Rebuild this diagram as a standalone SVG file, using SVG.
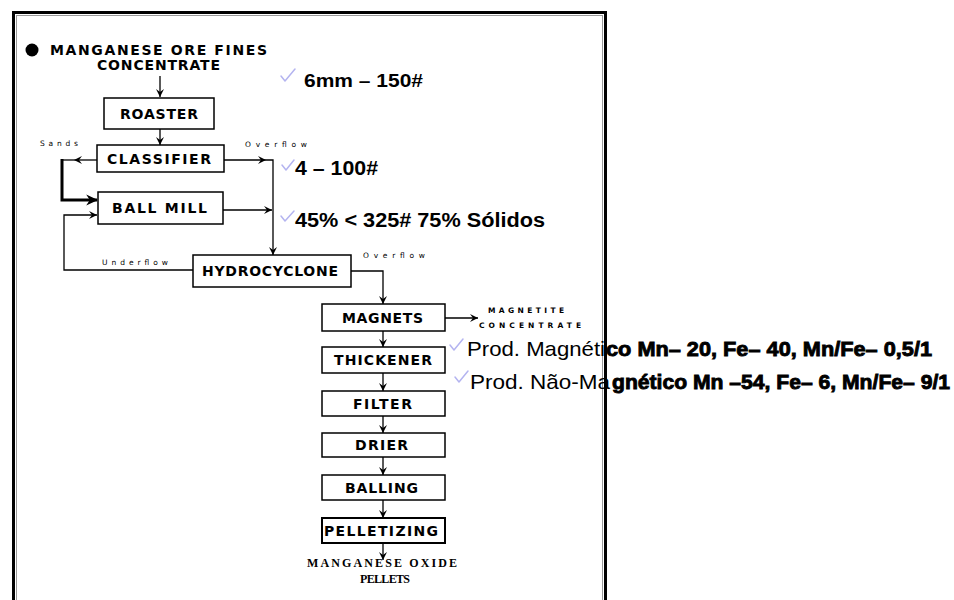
<svg xmlns="http://www.w3.org/2000/svg" width="954" height="600" viewBox="0 0 954 600">
<defs>
<style>
.box{fill:#fff;stroke:#000;stroke-width:1.5}
.lbl{font-family:"DejaVu Sans",sans-serif;font-weight:bold;font-size:14px;fill:#000}
.sm{font-family:"DejaVu Sans",sans-serif;font-weight:bold;font-size:7.5px;fill:#000}
.ann{font-family:"Liberation Sans",Arial,sans-serif;font-weight:bold;font-size:19px;fill:#000}
.reg{font-family:"Liberation Sans",Arial,sans-serif;font-size:21px;fill:#000}
.hvy{font-family:"Liberation Sans",Arial,sans-serif;font-weight:bold;font-size:21px;fill:#000;stroke:#000;stroke-width:0.9}
.ser{font-family:"Liberation Serif","Times New Roman",serif;font-weight:bold;font-size:12px;fill:#000}
.ln{fill:none;stroke:#000;stroke-width:1.3}
.thk{fill:none;stroke:#000;stroke-width:3}
.chk{fill:none;stroke:#b4b4f0;stroke-width:1.5;stroke-linecap:round;stroke-linejoin:round}
</style>
<marker id="ah" markerUnits="userSpaceOnUse" markerWidth="10" markerHeight="10" viewBox="0 0 10 10" refX="9" refY="5" orient="auto">
<path d="M1,1 L9,5 L1,9 L4,5 z" fill="#000"/>
</marker>
<marker id="ahb" markerUnits="userSpaceOnUse" markerWidth="12" markerHeight="12" viewBox="0 0 10 10" refX="9" refY="5" orient="auto">
<path d="M0,0.5 L10,5 L0,9.5 L3,5 z" fill="#000"/>
</marker>
</defs>
<rect width="954" height="600" fill="#fff"/>
<rect x="13.5" y="12.5" width="592" height="620" fill="none" stroke="#000" stroke-width="3"/>
<rect x="16.5" y="15.5" width="586" height="620" fill="none" stroke="#999" stroke-width="1"/>

<g id="source">
<circle cx="32" cy="50" r="6.5" fill="#000"/>
<text class="lbl" x="50" y="55" textLength="217" lengthAdjust="spacing">MANGANESE ORE FINES</text>
<text class="lbl" x="97" y="70" textLength="123" lengthAdjust="spacing">CONCENTRATE</text>
</g>

<g id="roaster"><rect class="box" x="104" y="98" width="110" height="31"/><text class="lbl" x="120" y="118.5" textLength="78" lengthAdjust="spacing">ROASTER</text></g>
<g id="classifier"><rect class="box" x="97" y="145" width="127" height="27"/><text class="lbl" x="107" y="164" textLength="104" lengthAdjust="spacing">CLASSIFIER</text></g>
<g id="ballmill"><rect class="box" x="98" y="192" width="125" height="32"/><text class="lbl" x="112" y="213" textLength="95" lengthAdjust="spacing">BALL MILL</text></g>
<g id="hydrocyclone"><rect class="box" x="193" y="255" width="158" height="32"/><text class="lbl" x="202" y="276" textLength="136" lengthAdjust="spacing">HYDROCYCLONE</text></g>
<g id="magnets"><rect class="box" x="322" y="304" width="123" height="27"/><text class="lbl" x="342" y="322.5" textLength="81" lengthAdjust="spacing">MAGNETS</text></g>
<g id="thickener"><rect class="box" x="322" y="347" width="123" height="26"/><text class="lbl" x="334" y="365" textLength="98" lengthAdjust="spacing">THICKENER</text></g>
<g id="filter"><rect class="box" x="322" y="391" width="123" height="25"/><text class="lbl" x="353" y="408.5" textLength="59" lengthAdjust="spacing">FILTER</text></g>
<g id="drier"><rect class="box" x="322" y="433" width="123" height="24"/><text class="lbl" x="355" y="450" textLength="53" lengthAdjust="spacing">DRIER</text></g>
<g id="balling"><rect class="box" x="322" y="475" width="123" height="25"/><text class="lbl" x="345" y="492.5" textLength="73" lengthAdjust="spacing">BALLING</text></g>
<g id="pelletizing"><rect class="box" x="322" y="518" width="123" height="25" style="stroke-width:2"/><text class="lbl" x="324" y="535.5" textLength="114" lengthAdjust="spacing">PELLETIZING</text></g>

<g id="products">
<text class="sm" x="488" y="313" textLength="76" lengthAdjust="spacing">MAGNETITE</text>
<text class="sm" x="479" y="328" textLength="102" lengthAdjust="spacing">CONCENTRATE</text>
<text class="ser" x="307" y="567" textLength="150" lengthAdjust="spacing">MANGANESE OXIDE</text>
<text class="ser" x="360" y="583" textLength="50" lengthAdjust="spacing">PELLETS</text>
</g>

<g id="connectors">
<path class="ln" d="M160,76 L160,97" marker-end="url(#ah)"/>
<path class="ln" d="M160,129 L160,145" marker-end="url(#ah)"/>
<path class="ln" d="M97,160 L74,160" marker-end="url(#ah)"/>
<path class="ln" d="M74,160 L62,160"/>
<path class="thk" d="M62,159 L62,200 L97,200" marker-end="url(#ahb)"/>
<path class="ln" d="M193,270 L64,270 L64,215 L97,215" marker-end="url(#ah)"/>
<path class="ln" d="M224,160 L266,160" marker-end="url(#ah)"/>
<path class="ln" d="M266,160 L273,160 L273,255" marker-end="url(#ah)"/>
<path class="ln" d="M223,210 L272,210" marker-end="url(#ah)"/>
<path class="ln" d="M351,271 L383,271 L383,304" marker-end="url(#ah)"/>
<path class="ln" d="M445,318 L478,318" marker-end="url(#ah)"/>
<path class="ln" d="M383,331 L383,347" marker-end="url(#ah)"/>
<path class="ln" d="M383,373 L383,391" marker-end="url(#ah)"/>
<path class="ln" d="M383,416 L383,433" marker-end="url(#ah)"/>
<path class="ln" d="M383,457 L383,475" marker-end="url(#ah)"/>
<path class="ln" d="M383,500 L383,518" marker-end="url(#ah)"/>
<path class="ln" d="M383,543 L383,560" marker-end="url(#ah)"/>
<text class="sm" x="40" y="146" textLength="38" lengthAdjust="spacing" style="font-weight:normal">Sands</text>
<text class="sm" x="245" y="147" textLength="62" lengthAdjust="spacing" style="font-weight:normal">Overflow</text>
<text class="sm" x="102" y="265" textLength="66" lengthAdjust="spacing" style="font-weight:normal">Underflow</text>
<text class="sm" x="363" y="258" textLength="62" lengthAdjust="spacing" style="font-weight:normal">Overflow</text>
</g>

<g id="notes">
<path class="chk" d="M281,76 L285,81 L295,69"/>
<text class="ann" x="304" y="87" textLength="119" lengthAdjust="spacingAndGlyphs">6mm – 150#</text>
<path class="chk" d="M282,165 L286,170 L294,160"/>
<text class="ann" x="295" y="175" textLength="83" lengthAdjust="spacingAndGlyphs" style="font-size:20px">4  – 100#</text>
<path class="chk" d="M281,216 L285,221 L294,211"/>
<text class="ann" x="295" y="227" textLength="250" lengthAdjust="spacingAndGlyphs" style="font-size:20px">45% &lt; 325#  75% Sólidos</text>
<path class="chk" d="M450,345 L454,350 L463,339"/>
<text class="reg" x="467" y="356" textLength="138" lengthAdjust="spacingAndGlyphs">Prod. Magnéti</text>
<text class="hvy" x="606" y="356" textLength="326" lengthAdjust="spacingAndGlyphs">co Mn– 20, Fe– 40,  Mn/Fe– 0,5/1</text>
<path class="chk" d="M455,377 L459,382 L468,371"/>
<text class="reg" x="470" y="389" textLength="140" lengthAdjust="spacingAndGlyphs">Prod. Não-Ma</text>
<text class="hvy" x="612" y="389" textLength="338" lengthAdjust="spacingAndGlyphs">gnético Mn –54, Fe– 6,  Mn/Fe– 9/1</text>
</g>
</svg>
